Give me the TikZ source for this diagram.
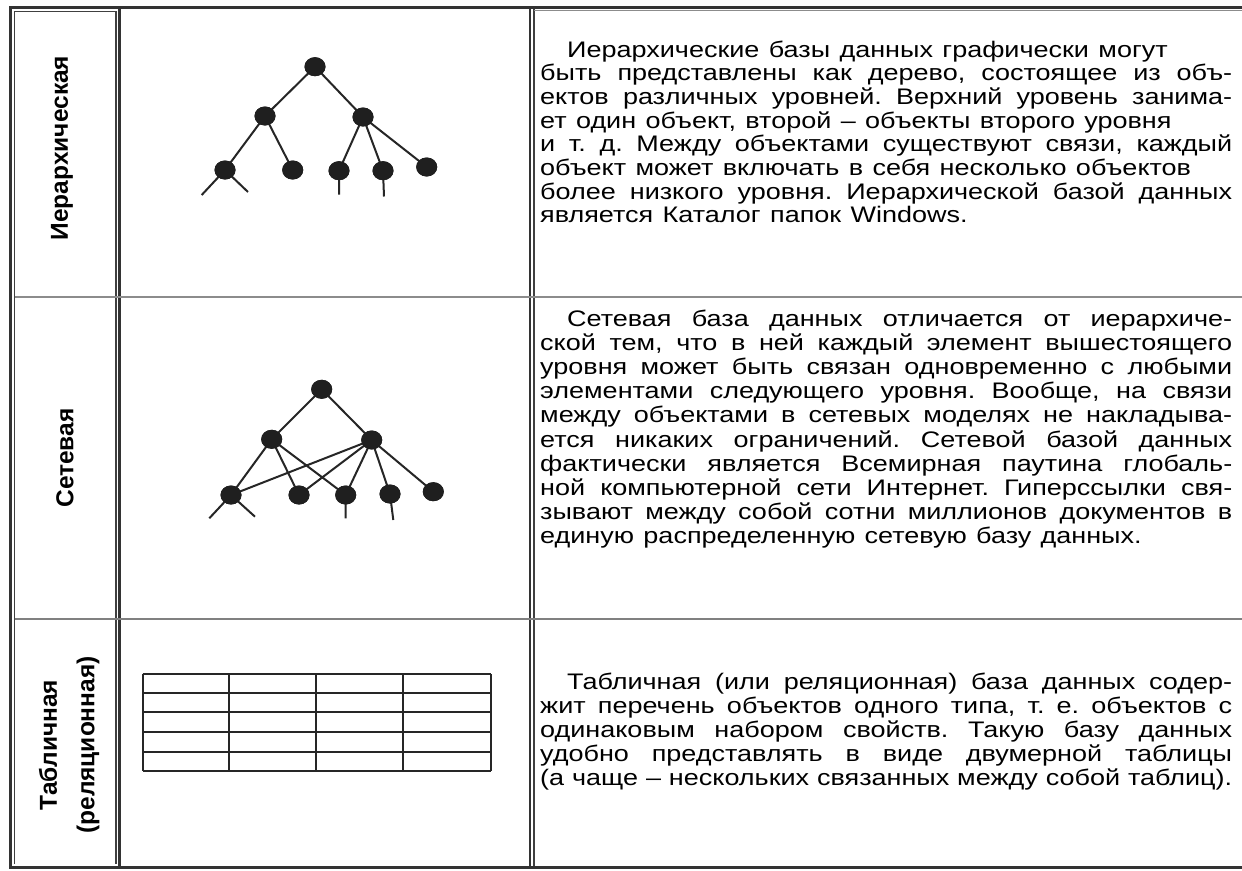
\documentclass[tikz,border=0pt]{standalone}
\usepackage{fontspec}
\setmainfont{Liberation Sans}
\newfontfamily\bodyfont[FakeStretch=1.2,WordSpace={1.25}]{Liberation Sans}
\usetikzlibrary{shapes.geometric}
\tikzset{
  dot/.style={ellipse, fill=black!88, draw=none, minimum width=21pt, minimum height=19pt, inner sep=0pt},
  edge/.style={draw=black!85, line width=2pt},
  thickrule/.style={draw=black!80, line width=2.4pt},
  thinrule/.style={draw=black!75, line width=1.4pt},
  rowrule/.style={draw=black!45, line width=2.6pt},
  tline/.style={draw=black!85, line width=1.8pt},
  txt/.style={anchor=base west, inner sep=0pt, font=\bodyfont\fontsize{22.5}{24}\selectfont\frenchspacing},
  lbl/.style={rotate=90, inner sep=0pt, font=\bfseries\fontsize{24.5}{30}\selectfont}
}
\newcommand{\jl}[1]{\makebox[692pt][s]{#1}}
\begin{document}
\begin{tikzpicture}[x=1pt,y=-1pt]
\useasboundingbox (0,0) rectangle (1242,870);
\fill[white] (0,0) rectangle (1242,870);
% frame
\draw[thickrule] (1242,7.5) -- (10.5,7.5) -- (10.5,867.5) -- (1242,867.5);
\draw[thinrule] (14.5,864) -- (14.5,11.5) -- (116,11.5) -- (116,864);
\draw[thickrule] (119.5,7.5) -- (119.5,867.5);
\draw[thickrule] (530,7.5) -- (530,867.5);
\draw[thinrule] (534,9) -- (534,866);
\draw[draw=black!45, line width=1.2pt] (534,10.5) -- (1242,10.5);
\draw[rowrule] (14.5,297) -- (1242,297);
\draw[draw=black!50, line width=2pt] (14.5,619) -- (1242,619);

% labels
\node[lbl] (l1) at (62,148) {Иерархическая};
\node[lbl] (l2) at (65,458) {Сетевая};
\node[lbl] (l3a) at (48,745) {Табличная};
\node[lbl] (l3b) at (88,745) {(реляционная)};

% tree 1
\node[dot] (a0) at (315,66.7) {};
\node[dot] (a1) at (265,116) {};
\node[dot] (a2) at (363,117) {};
\node[dot] (a3) at (225,170) {};
\node[dot] (a4) at (292.7,170) {};
\node[dot] (a5) at (339,170.7) {};
\node[dot] (a6) at (383,170.7) {};
\node[dot] (a7) at (426.7,167) {};
\coordinate (s1) at (201.7,195);
\coordinate (s2) at (248,192);
\coordinate (s3) at (339,194.5);
\coordinate (s4) at (384,196.5);
\draw[edge] (a0.center) -- (a1.center) (a0.center) -- (a2.center)
  (a1.center) -- (a3.center) (a1.center) -- (a4.center)
  (a2.center) -- (a5.center) (a2.center) -- (a6.center) (a2.center) -- (a7.center)
  (a3.center) -- (s1) (a3.center) -- (s2) (a5.center) -- (s3) (a6.center) -- (s4);

% tree 2
\node[dot] (b0) at (321.7,389.3) {};
\node[dot] (b1) at (271.7,439.3) {};
\node[dot] (b2) at (371.7,440) {};
\node[dot] (b3) at (231,495) {};
\node[dot] (b4) at (299,495) {};
\node[dot] (b5) at (345.7,495) {};
\node[dot] (b6) at (390,494) {};
\node[dot] (b7) at (433.3,491.7) {};
\coordinate (t1) at (209.3,518.3);
\coordinate (t2) at (255,516.7);
\coordinate (t3) at (345.7,518.3);
\coordinate (t4) at (393.3,520);
\draw[edge] (b0.center) -- (b1.center) (b0.center) -- (b2.center)
  (b1.center) -- (b3.center) (b1.center) -- (b4.center) (b1.center) -- (b5.center)
  (b2.center) -- (b3.center) (b2.center) -- (b4.center) (b2.center) -- (b5.center)
  (b2.center) -- (b6.center) (b2.center) -- (b7.center)
  (b3.center) -- (t1) (b3.center) -- (t2) (b5.center) -- (t3) (b6.center) -- (t4);
\foreach \n in {b0,b1,b2,b3,b4,b5,b6,b7,a0,a1,a2,a3,a4,a5,a6,a7} {\fill[black!88] (\n) ellipse (10.5pt and 9.5pt);}

% table
\foreach \yy in {674,692.7,712.3,732,752,771} {\draw[tline] (142.7,\yy) -- (491,\yy);}
\foreach \xx in {142.7,228.7,316,403.3,491} {\draw[tline] (\xx,674) -- (\xx,771);}

% text row 1
\foreach \t [count=\i] in {
{\hspace*{27pt}Иерархические базы данных графически могут},
{\jl{быть представлены как дерево, состоящее из объ-}},
{\jl{ектов различных уровней. Верхний уровень занима-}},
{ет один объект, второй – объекты второго уровня},
{\jl{и т. д. Между объектами существуют связи, каждый}},
{объект может включать в себя несколько объектов},
{\jl{более низкого уровня. Иерархической базой данных}},
{является Каталог папок Windows.}}
{\node[txt] (p1-\i) at (540,{57+23.7*(\i-1)}) {\t};}

% text row 2
\foreach \t [count=\i] in {
{\hspace*{27pt}Сетевая база данных отличается от иерархиче-},
{ской тем, что в ней каждый элемент вышестоящего},
{уровня может быть связан одновременно с любыми},
{элементами следующего уровня. Вообще, на связи},
{между объектами в сетевых моделях не накладыва-},
{ется никаких ограничений. Сетевой базой данных},
{фактически является Всемирная паутина глобаль-},
{ной компьютерной сети Интернет. Гиперссылки свя-},
{зывают между собой сотни миллионов документов в}}
{\node[txt] (p2-\i) at (540,{326+24.2*(\i-1)}) {\jl{\t}};}
\node[txt] (p2-10) at (540,{326+24.2*9}) {единую распределенную сетевую базу данных.};

% text row 3
\foreach \t [count=\i] in {
{\hspace*{27pt}Табличная (или реляционная) база данных содер-},
{жит перечень объектов одного типа, т. е. объектов с},
{одинаковым набором свойств. Такую базу данных},
{удобно представлять в виде двумерной таблицы},
{(а чаще – нескольких связанных между собой таблиц).}}
{\node[txt] (p3-\i) at (540,{689+24*(\i-1)}) {\jl{\t}};}
\end{tikzpicture}
\end{document}
